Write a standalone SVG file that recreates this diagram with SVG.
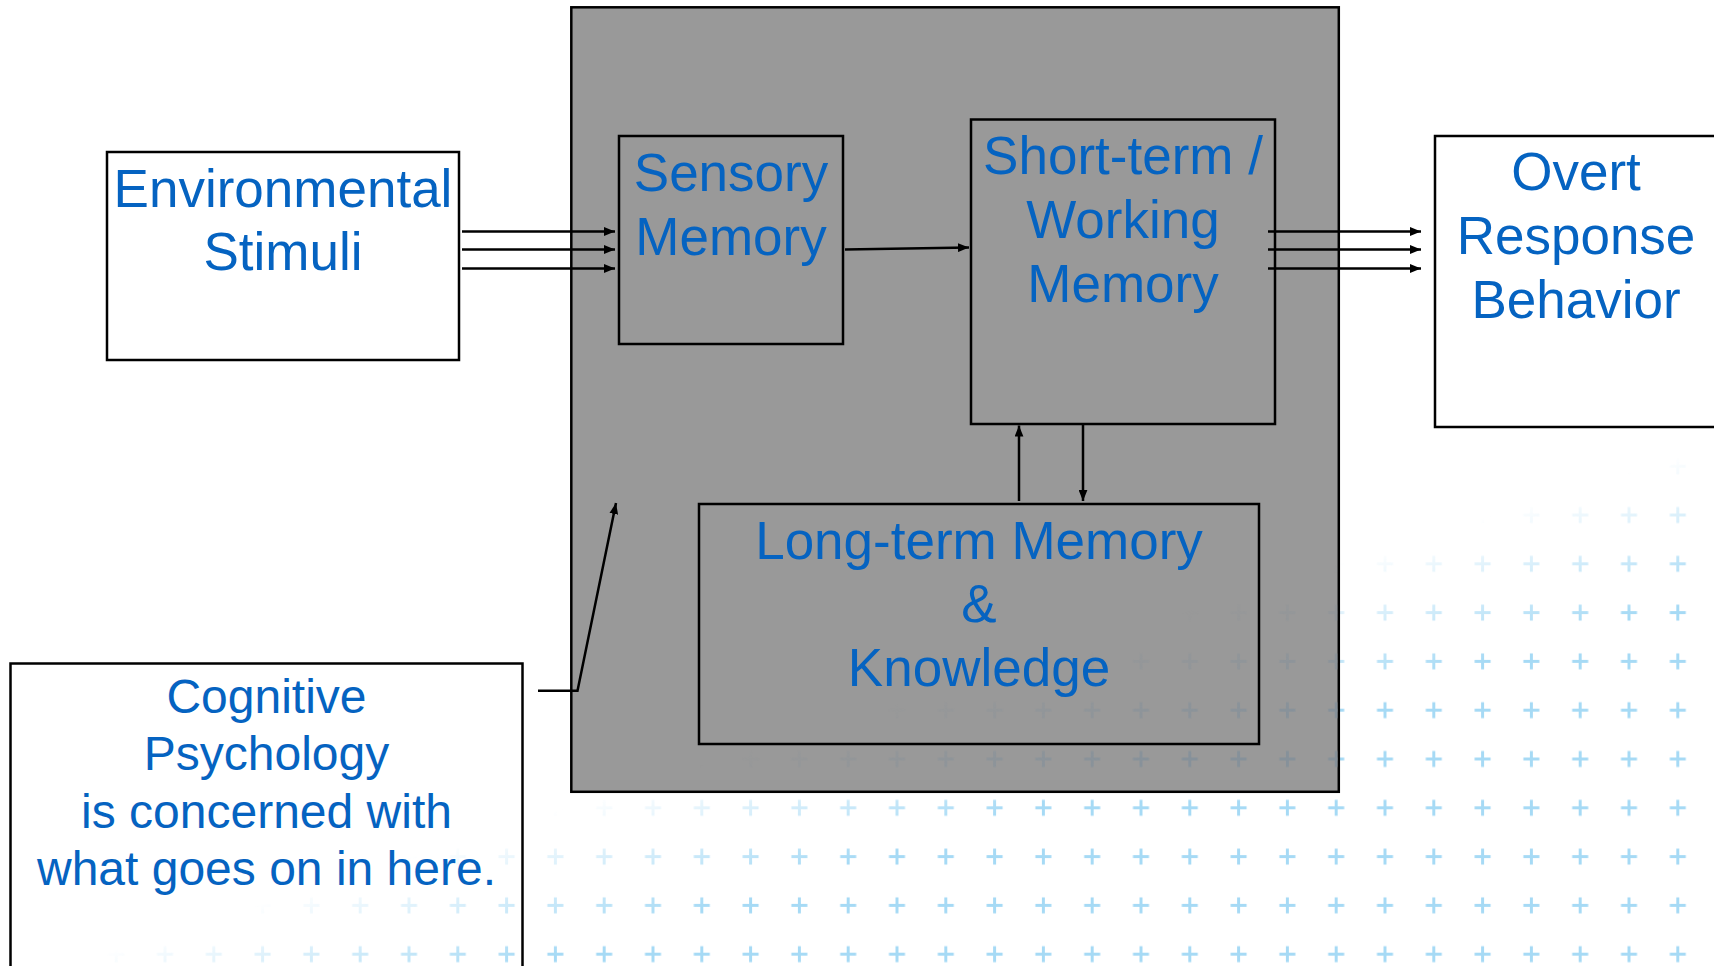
<svg xmlns="http://www.w3.org/2000/svg" width="1714" height="966" viewBox="0 0 1714 966">
<style>
.box{stroke:#000;stroke-width:2.5}
.lbl{font-family:"Liberation Sans",Arial,sans-serif;font-size:53px;fill:#0563C1;text-anchor:middle}
.lbs{font-family:"Liberation Sans",Arial,sans-serif;font-size:48px;fill:#0563C1;text-anchor:middle}
.con{stroke:#000;stroke-width:2.5;fill:none}
</style>
<defs>
<marker id="ah" viewBox="0 0 10 8" refX="10" refY="4" markerWidth="11" markerHeight="9" markerUnits="userSpaceOnUse" orient="auto">
<path d="M0,0 L10,4 L0,8 z" fill="#000"/>
</marker>
<pattern id="plusL" patternUnits="userSpaceOnUse" x="872.6" y="490.6" width="48.8" height="48.8">
<path d="M16.4,24.4h16M24.4,16.4v16" stroke="#a6daf5" stroke-width="3"/>
</pattern>
<pattern id="plusD" patternUnits="userSpaceOnUse" x="872.6" y="490.6" width="48.8" height="48.8">
<path d="M16.4,24.4h16M24.4,16.4v16" stroke="#86919a" stroke-width="3"/>
</pattern>
<linearGradient id="fadeG" gradientUnits="userSpaceOnUse" x1="285" y1="896" x2="327" y2="1029">
<stop offset="0" stop-color="#000"/>
<stop offset="1" stop-color="#fff"/>
</linearGradient>
<mask id="fade" maskUnits="userSpaceOnUse" x="0" y="0" width="1714" height="966">
<rect width="1714" height="966" fill="url(#fadeG)"/>
</mask>
<clipPath id="grayClip"><rect x="572.5" y="8.5" width="765" height="782"/></clipPath>
</defs>
<rect width="1714" height="966" fill="#fff"/>
<g id="background-pattern">
<rect width="1714" height="966" fill="url(#plusL)" mask="url(#fade)"/>
</g>
<g id="mind">
<rect class="box" x="571.3" y="7.3" width="767.5" height="784.5" fill="#999"/>
</g>
<g id="sensory">
<rect class="box" x="619" y="136" width="224" height="208" fill="#999"/>
<text class="lbl" x="731" y="191">Sensory</text>
<text class="lbl" x="731" y="255">Memory</text>
</g>
<g id="stm">
<rect class="box" x="971" y="119.5" width="304" height="304.5" fill="#999"/>
<text class="lbl" x="1123" y="174">Short-term /</text>
<text class="lbl" x="1123" y="238">Working</text>
<text class="lbl" x="1123" y="302">Memory</text>
</g>
<g id="ltm">
<rect class="box" x="699" y="504" width="560" height="240" fill="#999"/>
</g>
<g id="gray-pattern" clip-path="url(#grayClip)">
<rect x="571" y="7" width="768" height="785" fill="url(#plusD)" mask="url(#fade)"/>
</g>
<g id="ltm-label">
<text class="lbl" x="979" y="559">Long-term Memory</text>
<text class="lbl" x="979" y="622">&amp;</text>
<text class="lbl" x="979" y="686">Knowledge</text>
</g>
<g id="environmental">
<rect class="box" x="107" y="152" width="352" height="208" fill="#fff"/>
<text class="lbl" x="283" y="207">Environmental</text>
<text class="lbl" x="283" y="270">Stimuli</text>
</g>
<g id="overt">
<rect class="box" x="1435" y="136" width="300" height="291" fill="#fff"/>
<text class="lbl" x="1576" y="190">Overt</text>
<text class="lbl" x="1576" y="254">Response</text>
<text class="lbl" x="1576" y="318">Behavior</text>
</g>
<g id="cognitive">
<rect class="box" x="10.5" y="663.5" width="512" height="330" fill="none"/>
<text class="lbs" x="266.5" y="713">Cognitive</text>
<text class="lbs" x="266.5" y="770">Psychology</text>
<text class="lbs" x="266.5" y="828">is concerned with</text>
<text class="lbs" x="266.5" y="885">what goes on in here.</text>
</g>
<g id="connectors">
<line class="con" x1="462" y1="231.5" x2="615" y2="231.5" marker-end="url(#ah)"/>
<line class="con" x1="462" y1="249.5" x2="615" y2="249.5" marker-end="url(#ah)"/>
<line class="con" x1="462" y1="268.5" x2="615" y2="268.5" marker-end="url(#ah)"/>
<line class="con" x1="845" y1="249.5" x2="969" y2="247.5" marker-end="url(#ah)"/>
<line class="con" x1="1268" y1="231.5" x2="1421" y2="231.5" marker-end="url(#ah)"/>
<line class="con" x1="1268" y1="249.5" x2="1421" y2="249.5" marker-end="url(#ah)"/>
<line class="con" x1="1268" y1="268.5" x2="1421" y2="268.5" marker-end="url(#ah)"/>
<line class="con" x1="1019" y1="501" x2="1019" y2="425.5" marker-end="url(#ah)"/>
<line class="con" x1="1083" y1="425" x2="1083" y2="501" marker-end="url(#ah)"/>
<polyline class="con" points="538,690.7 577.5,690.7 616,503" marker-end="url(#ah)"/>
</g>
</svg>
